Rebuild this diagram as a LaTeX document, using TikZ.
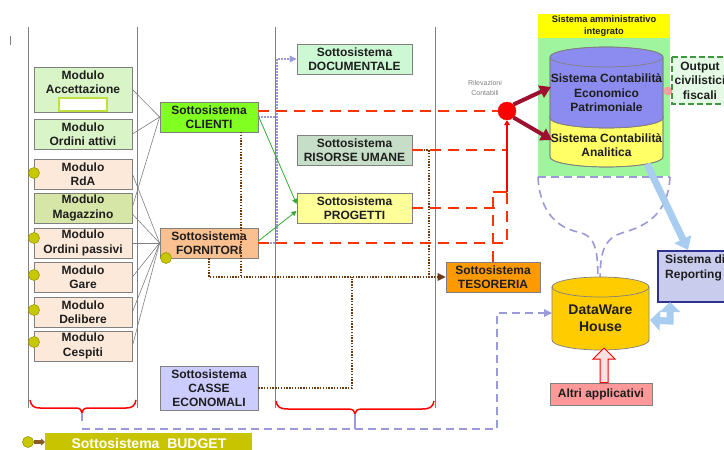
\documentclass[tikz,border=0pt]{standalone}
\usepackage{fontspec}
\setmainfont{Liberation Sans}
\usetikzlibrary{arrows.meta}
\definecolor{txt}{HTML}{1E1E1E}
\definecolor{boxgray}{HTML}{808080}
\definecolor{accg}{HTML}{D9F4C6}
\definecolor{stockb}{HTML}{C0E040}
\definecolor{peach}{HTML}{FDE9D9}
\definecolor{magg}{HTML}{D6E6A6}
\definecolor{clig}{HTML}{80FF20}
\definecolor{forn}{HTML}{FAC090}
\definecolor{docg}{HTML}{CCF8D4}
\definecolor{rug}{HTML}{C6DEC8}
\definecolor{progy}{HTML}{FFFF99}
\definecolor{teso}{HTML}{FF9900}
\definecolor{casse}{HTML}{CCCCFF}
\definecolor{sysy}{HTML}{FFFF00}
\definecolor{sysg}{HTML}{9EF59E}
\definecolor{eco}{HTML}{8C8CF0}
\definecolor{anay}{HTML}{FFFF66}
\definecolor{outg}{HTML}{E4FAE4}
\definecolor{outb}{HTML}{3C9A3C}
\definecolor{rep}{HTML}{C9CCEC}
\definecolor{repb}{HTML}{2E3192}
\definecolor{dwy}{HTML}{FFCC00}
\definecolor{altri}{HTML}{FF9999}
\definecolor{budg}{HTML}{C8C400}
\definecolor{bull}{HTML}{C8C800}
\definecolor{bullb}{HTML}{999900}
\definecolor{redd}{HTML}{FF3300}
\definecolor{dred}{HTML}{9E1030}
\definecolor{brownd}{HTML}{6B3A10}
\definecolor{brownc}{HTML}{8B5A2B}
\definecolor{lav}{HTML}{9A9ADA}
\definecolor{lightb}{HTML}{A8CDF0}
\definecolor{greenl}{HTML}{33AA33}
\definecolor{pinkb}{HTML}{F4A0A0}
\begin{document}
\begin{tikzpicture}[x=1pt,y=-1pt,
  box/.style={draw=boxgray, line width=0.8pt, inner sep=0pt, align=center, text=txt,
    font=\fontsize{12}{14.5}\selectfont\bfseries},
  lbl/.style={inner sep=0pt, align=center, text=txt, font=\fontsize{12}{14.5}\selectfont\bfseries},
  modbox/.style={box, minimum width=98pt, minimum height=30pt},
  subbox/.style={box, minimum width=98pt, minimum height=30pt},
  midbox/.style={box, minimum width=115pt, minimum height=30pt},
  bullet/.style={circle, fill=bull, draw=bullb, line width=0.6pt, minimum size=11pt, inner sep=0pt},
  vline/.style={draw=boxgray, line width=1pt},
  conn/.style={draw=gray, line width=0.6pt},
  rdash/.style={draw=redd, line width=1.6pt, dash pattern=on 11pt off 7pt},
  bdot/.style={draw=brownd, line width=1.6pt, dash pattern=on 1.4pt off 1.4pt},
  ldot/.style={draw=lav, line width=1.4pt, dash pattern=on 1.5pt off 1.5pt},
  ldash/.style={draw=lav, line width=1.6pt, dash pattern=on 8pt off 5pt},
  brace/.style={draw=red, line width=1.5pt},
  cyl/.style={draw=gray, line width=0.7pt}
]
\useasboundingbox (0,0) rectangle (724,450);
\fill[white] (0,0) rectangle (724,450);

% small mark
\draw[line width=1pt, gray] (10,36) -- (10,45);

% vertical lines
\draw[vline] (28,27) -- (28,408);
\draw[vline] (137,27) -- (137,408);
\draw[vline] (275,27) -- (275,408);
\draw[vline] (435,27) -- (435,408);

% braces
\draw[brace] (30,400) .. controls (31,406) and (34,408) .. (40,408) -- (76,408)
  .. controls (80,408) and (82,410) .. (82,413) .. controls (82,410) and (84,408) .. (88,408)
  -- (126,408) .. controls (132,408) and (135,406) .. (136,400);
\draw[brace] (276,401) .. controls (277,407) and (280,409) .. (288,409) -- (348,409)
  .. controls (353,409) and (355,411) .. (355,414) .. controls (355,411) and (357,409) .. (362,409)
  -- (422,409) .. controls (430,409) and (433,407) .. (434,401);

% left modules
\node[box, minimum width=98pt, minimum height=45pt, fill=accg] (acc) at (83,89.5) {};
\node[lbl] (acct) at (83,82) {Modulo\\Accettazione};
\draw[draw=stockb, line width=1.6pt, fill=white] (59,98) rectangle (107,111);
\node[modbox, fill=accg] (oa) at (83,134) {Modulo\\Ordini attivi};
\node[modbox, fill=peach] (rda) at (83,174) {Modulo\\RdA};
\node[modbox, fill=magg] (mag) at (83,208) {Modulo\\Magazzino};
\node[modbox, fill=peach] (op) at (83,243) {Modulo\\Ordini passivi};
\node[modbox, fill=peach] (gare) at (83,277) {Modulo\\Gare};
\node[modbox, fill=peach] (del) at (83,312) {Modulo\\Delibere};
\node[modbox, fill=peach] (ces) at (83,346) {Modulo\\Cespiti};

\node[bullet] (b1) at (34,173) {};
\node[bullet] (b2) at (34,238) {};
\node[bullet] (b3) at (34,275) {};
\node[bullet] (b4) at (34,310) {};
\node[bullet] (b5) at (34,342) {};

% subsystems
\node[subbox, fill=clig] (cli) at (209,117) {Sottosistema\\CLIENTI};
\node[subbox, fill=forn] (forn) at (209,243) {Sottosistema\\FORNITORI};
\node[bullet] (b6) at (166,258) {};
\node[box, minimum width=98pt, minimum height=44pt, fill=casse, font=\fontsize{12}{14}\selectfont\bfseries] (cas) at (209,388) {Sottosistema\\CASSE\\ECONOMALI};
\node[midbox, fill=docg] (doc) at (354.5,59) {Sottosistema\\DOCUMENTALE};
\node[midbox, fill=rug] (ru) at (354.5,150) {Sottosistema\\RISORSE UMANE};
\node[midbox, fill=progy] (prog) at (354.5,208) {Sottosistema\\PROGETTI};
\node[box, minimum width=94pt, minimum height=30pt, fill=teso] (tes) at (493,277) {Sottosistema\\TESORERIA};

% module connectors
\draw[conn] (acc.east) -- (cli.west);
\draw[conn] (oa.east) -- (cli.west);
\draw[conn] ([yshift=1pt]mag.east) -- (cli.west);
\draw[conn] (rda.east) -- (forn.west);
\draw[conn] ([yshift=-6pt]mag.east) -- (forn.west);
\draw[conn] (op.east) -- (forn.west);
\draw[conn] (gare.east) -- (forn.west);
\draw[conn] (del.east) -- (forn.west);
\draw[conn] (ces.east) -- (forn.west);

% lavender dotted to documentale
\draw[ldot] (cli.east) -- (277,117) -- (277,59) -- ([xshift=-6pt]doc.west);
\fill[lav] (doc.west) -- ++(-7,-3.5) -- ++(0,7) -- cycle;
\draw[ldot] (forn.east) -- (277,243) -- (277,117);

% green arrows
\draw[draw=greenl, line width=0.8pt, -{Triangle[width=5pt,length=5pt]}] ([yshift=1pt]cli.east) -- ([yshift=4pt]prog.west);
\draw[draw=greenl, line width=0.8pt, -{Triangle[width=5pt,length=5pt]}] ([yshift=2pt]forn.east) -- ([yshift=-3pt]prog.west);

% brown dotted
\coordinate (cbx) at (241,132);
\draw[bdot] (cbx) -- (cbx |- tes.west);
\draw[bdot] (forn.south) -- (forn.south |- tes.west) -- ([xshift=-7pt]tes.west);
\fill[brownd] (tes.west) -- ++(-8,-4) -- ++(0,8) -- cycle;
\draw[bdot] (ru.east) -- (429,150) -- (429,277);
\draw[bdot] (cas.east) -- (352,388) -- (352,277);

% Rilevazioni
\node[circle, fill=red, draw=red, minimum size=18pt, inner sep=0pt] (riv) at (507,111) {};
\node[inner sep=0pt, align=center, text=gray, font=\fontsize{7}{9.5}\selectfont] (rivl) at (485,88) {Rilevazioni\\Contabili};

% red dashed
\coordinate (jn) at (507,192);
\draw[rdash] (cli.east |- riv.west) -- (riv.west);
\draw[rdash] (ru.east) -- (507,150);
\draw[rdash] (prog.east) -- (500,208);
\draw[rdash] (forn.east) -- (507,243) -- (jn);
\draw[rdash] (tes.north) -- (493,192);
\draw[draw=redd, line width=1.6pt] (493,192) -- (jn);
\draw[draw=red, line width=1.6pt, -{Triangle[width=6pt,length=5pt]}] (jn) -- (riv.south);

% Sistema amministrativo integrato
\fill[sysy] (538,14) rectangle (670,38);
\fill[sysg] (538,38) rectangle (670,176);
\node[inner sep=0pt, align=center, text=txt, font=\fontsize{9.3}{12}\selectfont\bfseries] (sysl) at (604,26.5) {Sistema amministrativo\\integrato};

% Analitica cylinder
\path[cyl, fill=anay] (550,116) -- (550,157) arc[start angle=180, end angle=0, x radius=56.5, y radius=10] -- (663,116) -- cycle;
\draw[cyl] (550,116) -- (550,157) arc[start angle=180, end angle=0, x radius=56.5, y radius=10] -- (663,116);
\draw[cyl] (550,116) arc[start angle=180, end angle=0, x radius=56.5, y radius=10];
% Economico cylinder
\path[cyl, fill=eco] (550,57) -- (550,118) arc[start angle=180, end angle=0, x radius=56.5, y radius=10] -- (663,57) arc[start angle=0, end angle=-180, x radius=56.5, y radius=10] -- cycle;
\draw[cyl] (550,57) -- (550,118) arc[start angle=180, end angle=0, x radius=56.5, y radius=10] -- (663,57);
\draw[cyl] (606.5,57) ellipse [x radius=56.5, y radius=10];
\node[lbl] (ecot) at (606.5,93) {Sistema Contabilità\\Economico\\Patrimoniale};
\node[lbl] (anat) at (606.5,145) {Sistema Contabilità\\Analitica};

% dark red arrows
\coordinate (ecoin) at (551,87);
\coordinate (anain) at (552,140);
\draw[draw=dred, line width=4pt, -{Triangle[width=13pt,length=11pt]}] (riv.north east) -- (ecoin);
\draw[draw=dred, line width=4pt, -{Triangle[width=13pt,length=11pt]}] (riv.south east) -- (anain);

% Output
\fill[pinkb] (668,91) circle (4.5);
\draw[draw=outb, line width=1.5pt, dash pattern=on 6pt off 3pt, fill=outg] (672,57) rectangle (745,104);
\node[lbl] (outt) at (700,80.5) {Output\\civilistici\\fiscali};

% funnel
\draw[ldash] (538,177) -- (670,177);
\draw[ldash] (538,177) .. controls (540,215) and (560,228) .. (578,232) .. controls (596,236) and (598,250) .. (598,283);
\draw[ldash] (670,177) .. controls (668,215) and (645,226) .. (625,232) .. controls (603,238) and (600,252) .. (600,283);

% DataWare cylinder
\path[fill=dwy] (552,287) -- (552,340) arc[start angle=180, end angle=0, x radius=48.5, y radius=10] -- (649,287) arc[start angle=0, end angle=-180, x radius=48.5, y radius=10] -- cycle;
\draw[cyl] (552,287) -- (552,340) arc[start angle=180, end angle=0, x radius=48.5, y radius=10] -- (649,287);
\draw[cyl] (600.5,287) ellipse [x radius=48.5, y radius=10];
\node[lbl, font=\fontsize{14}{17}\selectfont\bfseries] (dw) at (600.5,318.5) {DataWare\\House};
\coordinate (dwwest) at (552,313);
\coordinate (dweast) at (650,320);
\coordinate (dwbot) at (604,348);

% Reporting
\draw[draw=repb, line width=1.2pt, fill=rep] (658,251) rectangle (745,302);
\node[inner sep=0pt, align=left, text=txt, font=\fontsize{12}{14.5}\selectfont\bfseries, anchor=north west] (rept) at (665,255) {Sistema di\\Reporting};
\coordinate (repbot) at (670,302);
\coordinate (reptop) at (688,250);

% light blue arrows
\coordinate (anaout) at (647,164);
\draw[draw=lightb, line width=7pt, -{Triangle[width=18pt,length=12pt]}] (anaout) -- (reptop);
\draw[draw=lightb, line width=7pt, {Triangle[width=20pt,length=10pt]}-{Triangle[width=20pt,length=10pt]}] (repbot) -- (670,321) -- (dweast);

% Altri applicativi
\node[box, minimum width=102pt, minimum height=22pt, fill=altri] (alt) at (601,394) {Altri applicativi};
\draw[draw=red, line width=1pt, fill=red!12] (alt.north -| 600,0) -- (600,359) -- (593,359) -- (dwbot -| 604,0) -- (615,359) -- (608,359) -- (alt.north -| 608,0) -- cycle;

% lavender dashed line to DW
\draw[draw=lav, line width=1.6pt] (82,413) -- (82,421);
\draw[draw=lav, line width=1.6pt] (355,414) -- (355,429);
\draw[ldash] (82,429) -- (497,429) -- (497,313) -- ([xshift=-8pt]dwwest);
\fill[lav] (dwwest) -- ++(-8,-4) -- ++(0,8) -- cycle;

% Budget
\fill[budg] (45,433) rectangle (252,460);
\node[inner sep=0pt, text=white, font=\fontsize{14}{16}\selectfont\bfseries] (bud) at (149,443.5) {Sottosistema\ \ BUDGET};
\node[bullet] (b7) at (28,442) {};
\draw[draw=brownc, line width=3.5pt, -{Triangle[width=7pt,length=4pt]}] (b7.east) -- (45,442);
\end{tikzpicture}
\end{document}
